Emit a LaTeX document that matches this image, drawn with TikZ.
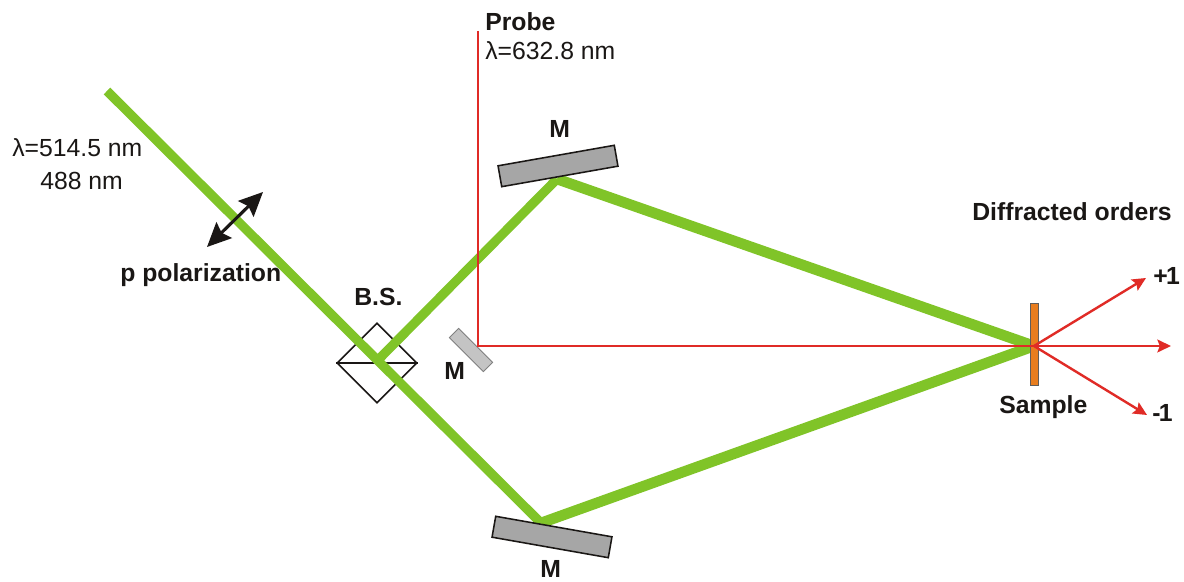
\documentclass[tikz,border=0pt]{standalone}
\usepackage{fontspec}
\setmainfont{Liberation Sans}
\usetikzlibrary{arrows.meta,shapes.geometric}
\definecolor{beamgreen}{HTML}{80C428}
\definecolor{probered}{HTML}{E02B26}
\definecolor{mirrordark}{HTML}{A6A6A6}
\definecolor{mirrorlight}{HTML}{C4C4C4}
\definecolor{sampleorange}{HTML}{E87D1E}
\definecolor{inkdark}{HTML}{1A1715}

\begin{document}
\begin{tikzpicture}[
    x=0.025cm, y=-0.025cm,
    font=\fontsize{17.6}{20}\selectfont,
    every node/.style={text=inkdark},
    beam/.style={draw=beamgreen, line width=6.6pt},
    sidebeam/.style={draw=beamgreen, line width=7.6pt},
    probe/.style={draw=probered, line width=2pt},
    order/.style={-{Stealth[length=3.4mm,width=3.2mm,inset=0.6mm]}, draw=probered, line width=1.7pt},
    polarrow/.style={{Stealth[length=6mm,width=5.5mm,inset=0.9mm]}-{Stealth[length=6mm,width=5.5mm,inset=0.9mm]},
        draw=inkdark, line width=2.2pt},
    mirror/.style={rectangle, draw=inkdark, line width=1.1pt, fill=mirrordark,
        minimum width=2.95cm, minimum height=0.53cm, inner sep=0pt},
    smallmirror/.style={rectangle, draw=gray, line width=0.6pt, fill=mirrorlight,
        minimum width=1.2cm, minimum height=0.33cm, inner sep=0pt},
    plain/.style={anchor=base west, inner sep=0pt},
    boldlabel/.style={plain, font=\fontsize{17.6}{20}\selectfont\bfseries},
]

% Background
\fill[white] (0,0) rectangle (1184,582);
\useasboundingbox (0,0) rectangle (1184,582);

% Points where the beams turn or end
\coordinate (source) at (107,91);
\coordinate (split) at (377,361);
\coordinate (hittop) at (557,179);
\coordinate (hitbot) at (541,523);
\coordinate (spot) at (1034,346);
\coordinate (probestart) at (478,31);
\coordinate (probeturn) at (478,346);
\coordinate (zeroend) at (1171,346);
\coordinate (plusend) at (1146,278);
\coordinate (minusend) at (1147,415);
\coordinate (polup) at (263,192);
\coordinate (poldown) at (207,247);

% Beam splitter
\node[diamond, draw=inkdark, line width=1.1pt, minimum width=2cm, minimum height=2cm,
      aspect=1, inner sep=0pt] (bs) at (377,363) {};
\draw[draw=inkdark, line width=1.1pt] (bs.west) -- (bs.east);

% Green beams
\draw[beam] (source) -- (hitbot);
\draw[beam, line join=miter] (split) -- (hittop);
\draw[sidebeam] (hittop) -- (spot);
\draw[sidebeam] (hitbot) -- (spot);

% Mirrors and sample
\node[mirror, rotate=10] (mtop) at (558,166) {};
\node[mirror, rotate=-10] (mbot) at (552,537) {};
\node[smallmirror, rotate=-45] (msmall) at (471,350) {};
\node[rectangle, draw=inkdark!70, line width=0.6pt, fill=sampleorange,
      minimum width=0.2cm, minimum height=2.05cm, inner sep=0pt] (sample) at (1034,344) {};

% Red probe and diffracted orders
\draw[probe] (probestart) -- (probeturn) -- (spot);
\draw[order] (spot) -- (zeroend);
\draw[order] (spot) -- (plusend);
\draw[order] (spot) -- (minusend);

% Polarization arrow
\draw[polarrow] (poldown) -- (polup);

% Labels
\node[plain] (lambdagreen) at (12,157) {λ=514.5 nm};
\node[plain] (lambdablue) at (40,190) {488 nm};
\node[boldlabel] (pollabel) at (120,282) {p polarization};
\node[boldlabel] (probelabel) at (485,31) {Probe};
\node[plain] (lambdared) at (485,60) {λ=632.8 nm};
\node[boldlabel] (mtoplabel) at (549,138) {M};
\node[boldlabel] (bslabel) at (354,306) {B.S.};
\node[boldlabel] (msmalllabel) at (444,380) {M};
\node[boldlabel] (mbotlabel) at (540,577) {M};
\node[boldlabel] (orderslabel) at (972,221) {Diffracted orders};
\node[boldlabel] (pluslabel) at (1153,285) {+\kern-1.2pt 1};
\node[boldlabel] (minuslabel) at (1152,422) {-\kern-1.2pt 1};
\node[boldlabel] (samplelabel) at (999,414) {Sample};

\end{tikzpicture}
\end{document}
